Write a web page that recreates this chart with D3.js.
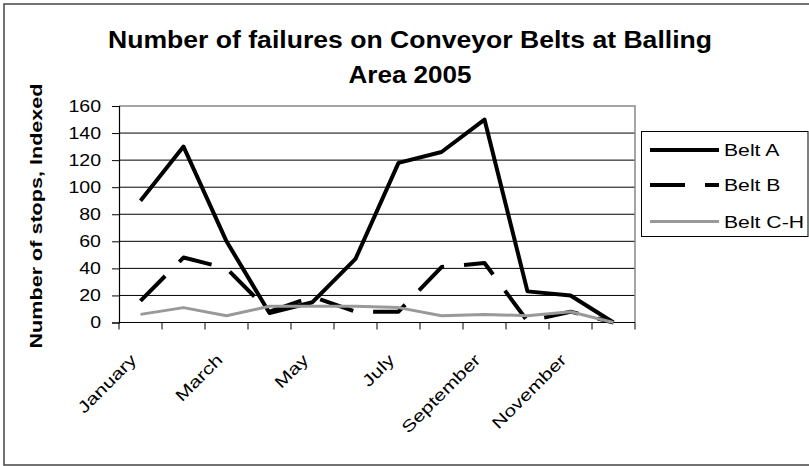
<!DOCTYPE html>
<html>
<head>
<meta charset="utf-8">
<script src="https://cdn.jsdelivr.net/npm/d3@7"></script>
<style>
  html, body { margin: 0; padding: 0; background: #fff; }
  svg { display: block; }
  text { font-family: "Liberation Sans", Arial, sans-serif; fill: #000; }
</style>
</head>
<body>
<svg id="chart" width="809" height="466"></svg>
<script>
// ---- data ----
const months = ["January","February","March","April","May","June","July","August","September","October","November","December"];
const beltA  = [90, 130, 60, 7, 15, 47, 118, 126, 150, 23, 20, 0];
const beltB  = [16, 48, 40, 8, 19, 8, 8, 41, 44, 1, 8, 0];
const beltCH = [6, 11, 5, 12, 12, 12, 11, 5, 6, 5, 8, 0];
const seriesNames = ["Belt A", "Belt B", "Belt C-H"];
const yTicks = [0, 20, 40, 60, 80, 100, 120, 140, 160];
const titleLines = ["Number of failures on Conveyor Belts at Balling", "Area 2005"];
const yTitle = "Number of stops, Indexed";

const series = [
  { name: seriesNames[0], values: beltA,  color: "#000", width: 4,   dash: null },
  { name: seriesNames[1], values: beltB,  color: "#000", width: 4,   dash: "35,20" },
  { name: seriesNames[2], values: beltCH, color: "#999", width: 3,   dash: null }
];

const svg = d3.select("#chart");
const W = 809, H = 466;
const plot = { left: 119, right: 635, top: 106, bottom: 322.5 };

function stretch(sel, f) {
  sel.each(function() {
    const l = this.getComputedTextLength();
    d3.select(this).attr("textLength", l * f).attr("lengthAdjust", "spacingAndGlyphs");
  });
}

// background + outer border
svg.append("rect").attr("x", 0).attr("y", 0).attr("width", W).attr("height", H).attr("fill", "#fff");
svg.append("rect").attr("x", 4).attr("y", 4).attr("width", 812).attr("height", 461)
  .attr("fill", "none").attr("stroke", "#444").attr("stroke-width", 1.5);

// scales
const x = d3.scaleBand().domain(months).range([plot.left, plot.right]).padding(0);
const y = d3.scaleLinear().domain([0, 160]).range([plot.bottom, plot.top]);
const cx = m => x(m) + x.bandwidth() / 2;

// gridlines
svg.append("g").selectAll("line").data(yTicks.filter(t => t > 0 && t < 160)).join("line")
  .attr("x1", plot.left).attr("x2", plot.right)
  .attr("y1", d => y(d)).attr("y2", d => y(d))
  .attr("stroke", "#000").attr("stroke-width", 1);

// plot border (top/right gray)
svg.append("path")
  .attr("d", `M${plot.left},${y(160)}H${plot.right}V${plot.bottom}`)
  .attr("fill", "none").attr("stroke", "#888").attr("stroke-width", 1.5);

// y axis
const yAxis = svg.append("g").attr("transform", `translate(${plot.left},0)`)
  .call(d3.axisLeft(y).tickValues(yTicks).tickSize(7).tickPadding(11).tickFormat(d3.format("d")));
yAxis.select(".domain").attr("stroke", "#000").attr("stroke-width", 1.2);
yAxis.selectAll(".tick line").attr("stroke", "#000");
yAxis.selectAll(".tick text").attr("font-size", "16.3px").attr("fill", "#000")
  .style("font-family", '"Liberation Sans", Arial, sans-serif');
stretch(yAxis.selectAll(".tick text"), 1.2);

// x axis line
svg.append("line").attr("x1", plot.left).attr("x2", plot.right)
  .attr("y1", plot.bottom).attr("y2", plot.bottom).attr("stroke", "#000").attr("stroke-width", 1.2);
// x ticks at category boundaries
const bounds = months.map(m => x(m)).concat([plot.right]);
svg.append("g").selectAll("line").data(bounds).join("line")
  .attr("x1", d => d).attr("x2", d => d)
  .attr("y1", plot.bottom).attr("y2", plot.bottom + 7)
  .attr("stroke", "#000").attr("stroke-width", 1);
// x labels (every other month)
const xl = svg.append("g").selectAll("text").data(months.filter((m, i) => i % 2 === 0)).join("text")
  .attr("transform", d => `translate(${cx(d) - 3},${361}) rotate(-45)`)
  .attr("text-anchor", "end")
  .attr("font-size", "16.3px")
  .text(d => d);
stretch(xl, 1.3);

// lines
const line = d3.line().x((d, i) => cx(months[i])).y(d => y(d));
series.forEach(s => {
  svg.append("path").datum(s.values)
    .attr("d", line)
    .attr("fill", "none")
    .attr("stroke", s.color)
    .attr("stroke-width", s.width)
    .attr("stroke-linejoin", "round")
    .attr("stroke-dasharray", s.dash);
});

// title
const t = svg.append("g");
[48, 83].forEach((yy, i) => {
  const tt = t.append("text").attr("x", 410).attr("y", yy).attr("text-anchor", "middle")
    .attr("font-size", "23px").attr("font-weight", "bold").text(titleLines[i]);
  tt.attr("textLength", i === 0 ? 604 : 123).attr("lengthAdjust", "spacingAndGlyphs");
});

// y title
const yt = svg.append("text").attr("transform", `translate(42,216) rotate(-90)`)
  .attr("text-anchor", "middle").attr("font-size", "16.5px").attr("font-weight", "bold")
  .text(yTitle);
yt.attr("textLength", 265).attr("lengthAdjust", "spacingAndGlyphs");

// legend
const lg = svg.append("g");
lg.append("rect").attr("x", 641.5).attr("y", 131.5).attr("width", 166.5).attr("height", 105)
  .attr("fill", "#fff").attr("stroke", "#000").attr("stroke-width", 1);
const legY = [150, 185, 221.5];
series.forEach((s, i) => {
  lg.append("line").attr("x1", 650).attr("x2", 719).attr("y1", legY[i]).attr("y2", legY[i])
    .attr("stroke", s.color).attr("stroke-width", s.width).attr("stroke-dasharray", s.dash);
  const tx = lg.append("text").attr("x", 724).attr("y", legY[i] + 6).attr("font-size", "16.3px").text(s.name);
  stretch(tx, 1.3);
});
</script>
</body>
</html>
